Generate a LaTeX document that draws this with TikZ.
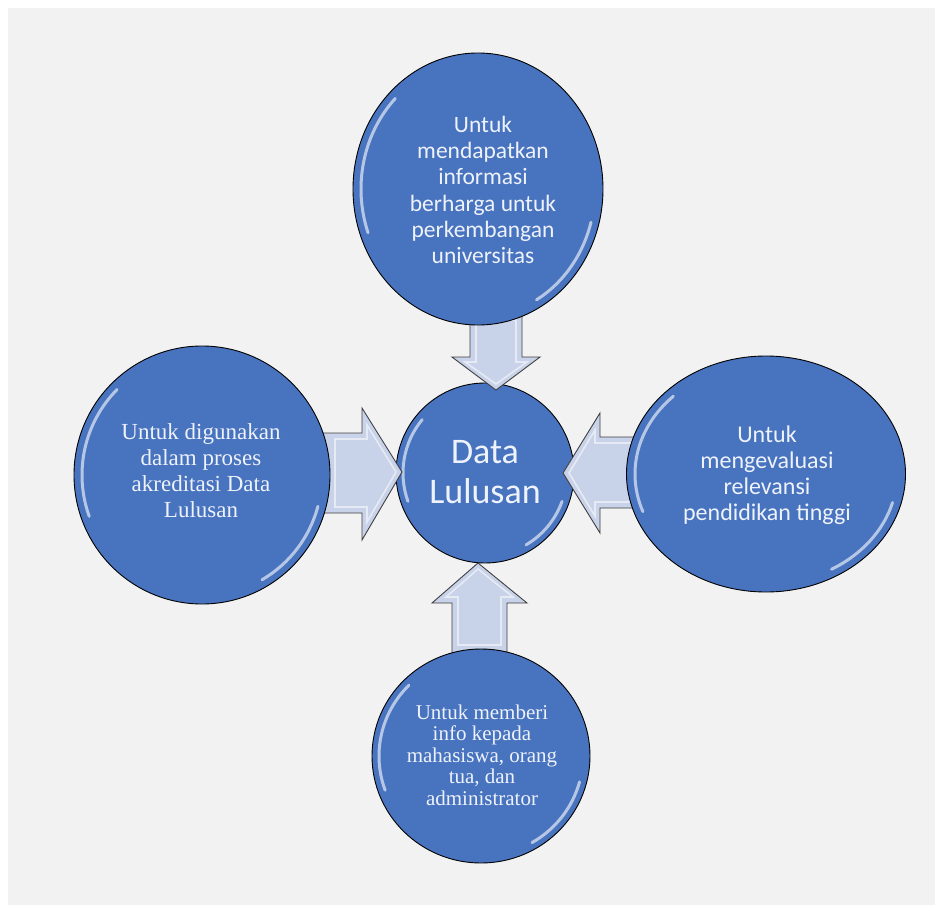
\documentclass[tikz,border=0pt]{standalone}
\usepackage{fontspec}
\newfontfamily\carlito{Carlito}
\newfontfamily\tnr{Liberation Serif}
\usetikzlibrary{shapes.geometric}
\definecolor{bg}{HTML}{F2F2F2}
\definecolor{cblue}{HTML}{4873BF}
\definecolor{afill}{HTML}{C8D2E8}
\definecolor{txt}{HTML}{EEF2FA}
\begin{document}
\begin{tikzpicture}[x=1pt,y=-1pt,
  bubble/.style={ellipse, draw=black, line width=0.9pt, fill=cblue, inner sep=0pt},
  btext/.style={text=txt, align=center, inner sep=0pt},
  barrow/.style={draw=black!75, line width=0.9pt, fill=afill, line join=miter},
  bevel/.style={draw=white, line width=1.6pt, opacity=0.55},
  gloss/.style={white, line width=3pt, opacity=0.6, line cap=round}]
\useasboundingbox (0,0) rectangle (935,905);
\fill[white] (0,0) rectangle (935,905);
\fill[bg] (8,8) rectangle (935,905);

% centre bubble
\node[bubble, minimum width=178, minimum height=180] (c) at (485,473) {};
\draw[gloss] ([shift={(160:82 and 83)}]c.center) arc[start angle=160, end angle=220, x radius=82, y radius=83];
\draw[gloss] ([shift={(20:82 and 83)}]c.center) arc[start angle=20, end angle=60, x radius=82, y radius=83];
\node[btext, font=\carlito\fontsize{36}{40}\selectfont] (ct) at (485,472) {Data\\Lulusan};

% arrows
\draw[barrow] (470,300) -- (522,300) -- (522,357) -- (540,357) -- (496,390) -- (452,357) -- (470,357) -- cycle;
\draw[bevel] (476,320) -- (516,320) -- (516,362) -- (527,362) -- (496,384) -- (465,362) -- (476,362) -- cycle;

\draw[barrow] (300,433) -- (362,433) -- (362,408) -- (402,472) -- (362,540) -- (362,513) -- (300,513) -- cycle;
\draw[bevel] (335,439) -- (367,439) -- (367,425) -- (396,472) -- (367,522) -- (367,507) -- (335,507) -- cycle;

\draw[barrow] (660,437) -- (600,437) -- (600,413) -- (563,473) -- (600,533) -- (600,508) -- (660,508) -- cycle;
\draw[bevel] (632,443) -- (595,443) -- (595,430) -- (569,473) -- (595,516) -- (595,502) -- (632,502) -- cycle;

\draw[barrow] (452,690) -- (452,603) -- (432,603) -- (478,563) -- (527,603) -- (507,603) -- (507,690) -- cycle;
\draw[bevel] (458,645) -- (458,597) -- (446,597) -- (478,569) -- (513,597) -- (501,597) -- (501,645) -- cycle;

% outer bubbles
\node[bubble, minimum width=250, minimum height=272] (t) at (478,189) {};
\draw[gloss] ([shift={(160:117 and 128)}]t.center) arc[start angle=160, end angle=225, x radius=117, y radius=128];
\draw[gloss] ([shift={(15:117 and 128)}]t.center) arc[start angle=15, end angle=60, x radius=117, y radius=128];
\node[btext, font=\carlito\fontsize{23.5}{26.3}\selectfont] (tt) at (483,190)
  {Untuk\\mendapatkan\\informasi\\berharga untuk\\perkembangan\\universitas};

\node[bubble, minimum width=279, minimum height=236] (r) at (766,474) {};
\draw[gloss] ([shift={(160:131 and 110)}]r.center) arc[start angle=160, end angle=225, x radius=131, y radius=110];
\draw[gloss] ([shift={(15:131 and 110)}]r.center) arc[start angle=15, end angle=60, x radius=131, y radius=110];
\node[btext, font=\carlito\fontsize{24}{26}\selectfont] (rt) at (767,475)
  {Untuk\\mengevaluasi\\relevansi\\pendidikan tinggi};

\node[bubble, minimum width=256, minimum height=258] (l) at (202,475) {};
\draw[gloss] ([shift={(160:120 and 121)}]l.center) arc[start angle=160, end angle=225, x radius=120, y radius=121];
\draw[gloss] ([shift={(15:120 and 121)}]l.center) arc[start angle=15, end angle=60, x radius=120, y radius=121];
\node[btext, font=\tnr\fontsize{23}{26}\selectfont] (lt) at (201,471)
  {Untuk digunakan\\dalam proses\\akreditasi Data\\Lulusan};

\node[bubble, minimum width=218, minimum height=214] (b) at (481,756) {};
\draw[gloss] ([shift={(160:102 and 100)}]b.center) arc[start angle=160, end angle=225, x radius=102, y radius=100];
\draw[gloss] ([shift={(15:102 and 100)}]b.center) arc[start angle=15, end angle=60, x radius=102, y radius=100];
\node[btext, font=\tnr\fontsize{21}{21.5}\selectfont] (bt) at (482,755)
  {Untuk memberi\\info kepada\\mahasiswa, orang\\tua, dan\\administrator};
\end{tikzpicture}
\end{document}
